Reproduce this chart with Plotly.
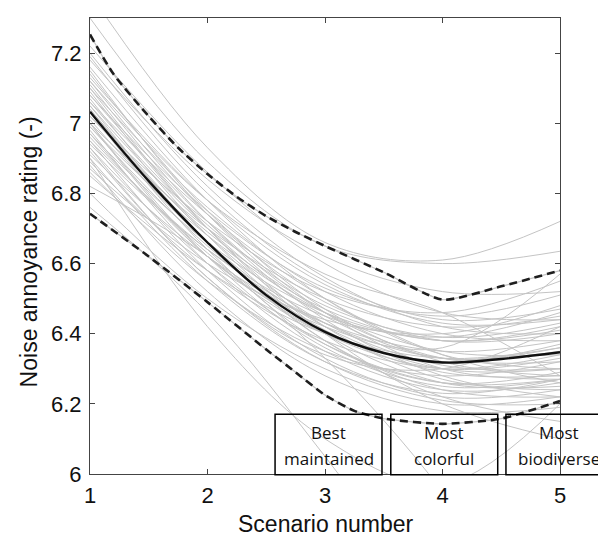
import plotly.graph_objects as go

scenarios = [1, 2, 3, 4, 5]

# individual (grey) curves: rating at scenarios 1..5
grey_curves = [
    [7.30, 6.89, 6.65, 6.60, 6.635],
    [7.37, 6.93, 6.66, 6.61, 6.72],
    [7.22, 6.86, 6.60, 6.46, 6.44],
    [7.19, 6.80, 6.55, 6.44, 6.47],
    [7.16, 6.78, 6.50, 6.34, 6.30],
    [7.14, 6.75, 6.47, 6.32, 6.28],
    [7.12, 6.74, 6.49, 6.38, 6.40],
    [7.11, 6.72, 6.44, 6.28, 6.22],
    [7.10, 6.76, 6.52, 6.40, 6.38],
    [7.09, 6.70, 6.42, 6.27, 6.24],
    [7.08, 6.72, 6.46, 6.33, 6.32],
    [7.07, 6.68, 6.40, 6.26, 6.25],
    [7.06, 6.71, 6.48, 6.39, 6.43],
    [7.05, 6.66, 6.38, 6.24, 6.22],
    [7.05, 6.70, 6.45, 6.33, 6.36],
    [7.04, 6.68, 6.43, 6.31, 6.30],
    [7.03, 6.64, 6.37, 6.26, 6.29],
    [7.02, 6.69, 6.47, 6.38, 6.42],
    [7.01, 6.66, 6.42, 6.30, 6.30],
    [7.00, 6.62, 6.36, 6.25, 6.27],
    [7.00, 6.70, 6.50, 6.42, 6.45],
    [6.99, 6.65, 6.41, 6.29, 6.28],
    [6.98, 6.60, 6.35, 6.24, 6.26],
    [6.97, 6.66, 6.46, 6.38, 6.41],
    [6.96, 6.63, 6.40, 6.30, 6.33],
    [6.95, 6.58, 6.33, 6.22, 6.24],
    [6.94, 6.64, 6.45, 6.39, 6.46],
    [6.93, 6.60, 6.37, 6.26, 6.27],
    [6.92, 6.56, 6.32, 6.21, 6.20],
    [6.91, 6.62, 6.43, 6.35, 6.38],
    [6.90, 6.55, 6.32, 6.23, 6.27],
    [6.89, 6.58, 6.38, 6.30, 6.34],
    [6.88, 6.52, 6.28, 6.18, 6.19],
    [6.87, 6.60, 6.44, 6.40, 6.48],
    [6.86, 6.55, 6.35, 6.28, 6.32],
    [6.82, 6.62, 6.33, 5.95, 5.45],
    [6.76, 6.46, 6.05, 5.60, 5.20],
    [6.90, 6.42, 6.10, 5.97, 6.20],
    [6.80, 6.50, 6.30, 6.20, 6.22],
    [6.85, 6.58, 6.40, 6.33, 6.36],
    [7.15, 6.74, 6.46, 6.30, 6.27],
    [7.13, 6.78, 6.54, 6.43, 6.44],
    [7.20, 6.82, 6.56, 6.42, 6.40],
    [7.08, 6.75, 6.53, 6.45, 6.51],
    [7.02, 6.72, 6.52, 6.46, 6.55],
    [6.97, 6.62, 6.40, 6.32, 6.37],
    [7.10, 6.70, 6.40, 6.20, 6.10],
    [7.04, 6.66, 6.38, 6.22, 6.15],
    [6.95, 6.64, 6.43, 6.33, 6.35],
    [7.18, 6.84, 6.62, 6.52, 6.52],
    [7.06, 6.74, 6.50, 6.34, 6.26],
    [6.99, 6.68, 6.46, 6.35, 6.34],
    [7.00, 6.62, 6.42, 6.36, 6.57],
    [7.12, 6.78, 6.57, 6.46, 6.28],
    [6.93, 6.56, 6.34, 6.30, 6.42],
]

fine_x = [1, 1.5, 2, 2.5, 3, 3.5, 4, 4.5, 5]
mean_curve = [7.033, 6.835, 6.66, 6.51, 6.405, 6.345, 6.318, 6.328, 6.347]

upper_x = [1, 1.2, 1.5, 1.75, 2, 2.25, 2.5, 2.75, 3, 3.5, 4, 4.5, 5]
upper_curve = [7.253, 7.14, 7.02, 6.93, 6.855, 6.79, 6.735, 6.69, 6.65, 6.575, 6.497, 6.535, 6.58]

lower_x = [1, 1.5, 2, 2.5, 2.75, 3, 3.25, 3.5, 4, 4.5, 5]
lower_curve = [6.742, 6.62, 6.49, 6.355, 6.29, 6.225, 6.18, 6.158, 6.143, 6.158, 6.208]

y_ticks = [6, 6.2, 6.4, 6.6, 6.8, 7, 7.2]
x_ticks = [1, 2, 3, 4, 5]

box_labels = [("Best", "maintained"), ("Most", "colorful"), ("Most", "biodiverse")]
box_centers = [3.03, 4.015, 4.995]

fig = go.Figure()

GREY = "#c4c4c4"
for ys in grey_curves:
    fig.add_trace(go.Scatter(x=scenarios, y=ys, mode="lines",
                             line=dict(color=GREY, width=1, shape="spline"),
                             hoverinfo="skip", showlegend=False))

for xs, ys in [(upper_x, upper_curve), (lower_x, lower_curve)]:
    fig.add_trace(go.Scatter(x=xs, y=ys, mode="lines",
                             line=dict(color=GREY, width=1.2, shape="spline", smoothing=0.6),
                             showlegend=False, hoverinfo="skip"))
    fig.add_trace(go.Scatter(x=xs, y=ys, mode="lines",
                             line=dict(color="#1e1e1e", width=2.6, dash="8px,5px",
                                       shape="spline", smoothing=0.6),
                             showlegend=False))

fig.add_trace(go.Scatter(x=fine_x, y=mean_curve, mode="lines",
                         line=dict(color="#111111", width=2.4, shape="spline"),
                         showlegend=False))

X0, X1, Y0, Y1 = 1, 5, 6, 7.3

def px(x):
    return (x - X0) / (X1 - X0)

def py(y):
    return (y - Y0) / (Y1 - Y0)

half_w = 0.455
box_top = 6.17
for (l1, l2), c in zip(box_labels, box_centers):
    fig.add_shape(type="rect", xref="paper", yref="paper",
                  x0=px(c - half_w), x1=px(c + half_w), y0=py(5.998), y1=py(box_top),
                  line=dict(color="black", width=1.5), fillcolor="rgba(0,0,0,0)", layer="above")
    fig.add_annotation(x=px(c), y=py(6.117), xref="paper", yref="paper", text=l1,
                       showarrow=False, font=dict(family="Open Sans", size=17, color="#111"),
                       xanchor="center", yanchor="middle")
    fig.add_annotation(x=px(c), y=py(6.044), xref="paper", yref="paper", text=l2,
                       showarrow=False, font=dict(family="Open Sans", size=17, color="#111"),
                       xanchor="center", yanchor="middle")

fig.add_annotation(x=0.5, y=0, xref="paper", yref="paper", text="Scenario number",
                   showarrow=False, yshift=-50, xanchor="center", yanchor="middle",
                   font=dict(family="Liberation Sans", size=23, color="#111"))
fig.add_annotation(x=0, y=0.486, xref="paper", yref="paper", text="Noise annoyance rating (-)",
                   showarrow=False, xshift=-61, textangle=-90, xanchor="center", yanchor="middle",
                   font=dict(family="Liberation Sans", size=23, color="#111"))

axis_common = dict(showgrid=False, zeroline=False, showline=True, linecolor="#444",
                   linewidth=1, mirror="ticks", ticks="inside", ticklen=5,
                   tickcolor="#444")

fig.update_xaxes(range=[X0, X1], tickvals=x_ticks, ticklabelstandoff=2,
                 tickfont=dict(family="Liberation Sans", size=22, color="#111"), **axis_common)
fig.update_yaxes(range=[Y0, Y1], tickvals=y_ticks, ticklabelstandoff=3,
                 tickfont=dict(family="Liberation Sans", size=22, color="#111"), **axis_common)

fig.update_layout(width=606, height=544, margin=dict(l=82, r=54, t=10, b=78),
                  plot_bgcolor="white", paper_bgcolor="white", showlegend=False)

fig.write_html("out.html")
